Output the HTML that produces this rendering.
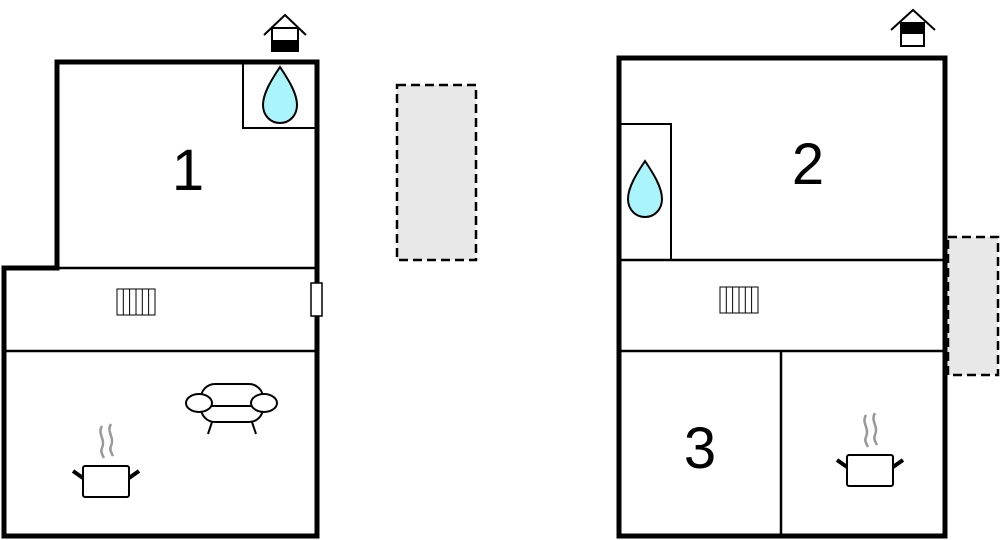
<!DOCTYPE html>
<html><head><style>html,body{margin:0;padding:0;background:#fff;}svg{display:block}</style></head>
<body>
<svg width="1000" height="540" viewBox="0 0 1000 540" xmlns="http://www.w3.org/2000/svg" font-family="Liberation Sans, sans-serif">
<defs>
<g id="drop"><path d="M0,0 C8,12 17,26 17,38 C17,49 9,56 0,56 C-9,56 -17,49 -17,38 C-17,26 -8,12 0,0 Z" fill="#aaf5fb" stroke="#000" stroke-width="2"/></g>
<g id="rad" fill="none" stroke="#000" stroke-width="1"><rect x="0" y="0" width="38" height="26"/><line x1="6.3" y1="0" x2="6.3" y2="26"/><line x1="12.6" y1="0" x2="12.6" y2="26"/><line x1="19" y1="0" x2="19" y2="26"/><line x1="25.3" y1="0" x2="25.3" y2="26"/><line x1="31.6" y1="0" x2="31.6" y2="26"/></g>
<g id="pot"><path d="M-4,-40 C-9,-32 0,-27 -4,-18 C-6,-14 -3,-10 -2,-8 M5,-42 C0,-34 9,-29 5,-20 C3,-16 6,-12 7,-10" stroke="#999" stroke-width="2.5" fill="none"/><rect x="-23" y="0" width="46" height="31" rx="2" fill="#fff" stroke="#000" stroke-width="2"/><line x1="-23" y1="12" x2="-33" y2="5" stroke="#000" stroke-width="4"/><line x1="23" y1="12" x2="33" y2="5" stroke="#000" stroke-width="4"/></g>
</defs>
<g fill="none" stroke="#000">
<path d="M57,268 V62 H317 V536 H4 V268 Z" stroke-width="5"/>
<line x1="57" y1="268" x2="317" y2="268" stroke-width="2.5"/>
<line x1="4" y1="351" x2="317" y2="351" stroke-width="2.5"/>
<path d="M317,128 H243 V62" stroke-width="2"/>
</g>
<use href="#drop" x="280" y="67"/>
<text x="188" y="190" font-size="58" text-anchor="middle">1</text>
<use href="#rad" x="117" y="289"/>
<rect x="311" y="283" width="11" height="33" fill="#fff" stroke="#000" stroke-width="1.5"/>
<g fill="#fff" stroke="#000" stroke-width="2">
<rect x="201" y="384" width="62" height="38" rx="14"/>
<line x1="205" y1="406" x2="259" y2="406"/>
<ellipse cx="199" cy="403" rx="13" ry="9"/>
<ellipse cx="264" cy="403" rx="13" ry="9"/>
<line x1="212" y1="422" x2="208" y2="434"/><line x1="252" y1="422" x2="256" y2="434"/>
</g>
<use href="#pot" x="106" y="466"/>
<g stroke="#000" stroke-width="2" fill="none"><path d="M264,35 L285,15 L306,35"/><rect x="272" y="28" width="26" height="23" fill="#fff"/></g>
<rect x="272" y="40" width="26" height="12" fill="#000"/>
<rect x="397" y="85" width="79" height="175" fill="#e8e8e8" stroke="#000" stroke-width="2.5" stroke-dasharray="9,5"/>
<rect x="948" y="237" width="50" height="138" fill="#e8e8e8" stroke="#000" stroke-width="2.5" stroke-dasharray="9,5"/>
<g fill="none" stroke="#000">
<rect x="619" y="58" width="326" height="478" stroke-width="5"/>
<line x1="619" y1="260" x2="945" y2="260" stroke-width="2.5"/>
<line x1="619" y1="351" x2="945" y2="351" stroke-width="2.5"/>
<line x1="781" y1="351" x2="781" y2="536" stroke-width="2.5"/>
<path d="M619,124 H671 V260" stroke-width="2"/>
</g>
<use href="#drop" x="645" y="161"/>
<text x="808" y="184" font-size="58" text-anchor="middle">2</text>
<text x="700" y="468" font-size="58" text-anchor="middle">3</text>
<use href="#rad" x="720" y="287"/>
<use href="#pot" x="870" y="455"/>
<g stroke="#000" stroke-width="2" fill="none"><path d="M891,30 L913,10 L935,30"/><rect x="901" y="23" width="23" height="23" fill="#fff"/></g>
<rect x="901" y="23" width="23" height="11" fill="#000"/>
</svg>
</body></html>
